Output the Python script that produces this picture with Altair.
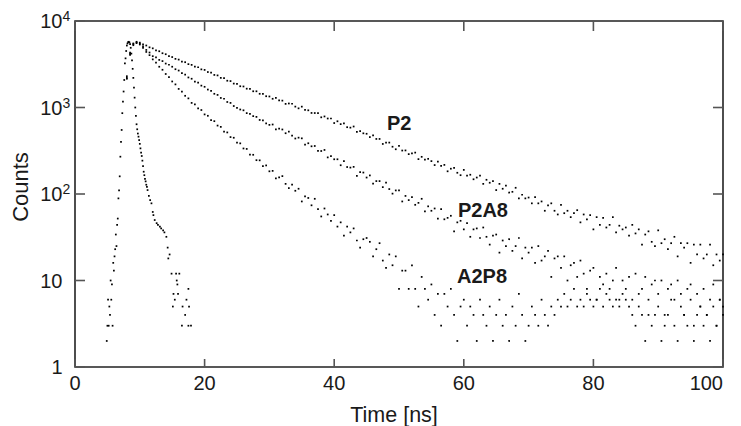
import altair as alt
import pandas as pd

# ---------------- data ----------------
# decay curves are sampled on a 0.5 ns channel grid starting at 8.0 ns
T_START = 8.0
T_STEP = 0.5

p2 = [
    2300, 4300, 5500, 5750,
    5620, 5360, 5210, 4960, 4830, 4580, 4470, 4240, 4130, 3920,
    3830, 3650, 3580, 3400, 3340, 3170, 3110, 2960, 2920, 2760,
    2720, 2570, 2530, 2380, 2350, 2200, 2180, 2040, 2020, 1890,
    1870, 1760, 1750, 1650, 1640, 1540, 1540, 1440, 1440, 1350,
    1341, 1261, 1289, 1208, 1201, 1101, 1113, 1105, 1024, 978,
    1023, 939, 928, 865, 863, 863, 770, 788, 746, 746,
    661, 693, 642, 654, 592, 585, 603, 524, 533, 503,
    497, 455, 477, 433, 433, 379, 392, 393, 352, 329,
    360, 318, 319, 289, 294, 301, 253, 269, 250, 255,
    240, 216, 237, 211, 217, 183, 196, 201, 176, 165,
    190, 163, 167, 148, 155, 163, 131, 146, 135, 141,
    111, 131, 115, 125, 104, 106, 118, 89, 98, 89,
    91, 78, 92, 78, 82, 64, 74, 78, 64, 58,
    75, 60, 64, 54, 60, 65, 47, 58, 51, 57,
    39, 54, 44, 53, 41, 44, 54, 36, 43, 39,
    41, 33, 44, 35, 39, 26, 34, 37, 28, 25,
    38, 27, 30, 23, 27, 32, 19, 27, 24, 27,
    16, 26, 20, 26, 18, 20, 26, 15, 20, 17,
    20,
]

p2a8 = [
    2200, 4200, 5400, 5650,
    5480, 5090, 4630, 4320, 3920, 3790, 3550, 3440, 3220, 3120,
    2960, 2770, 2675, 2490, 2400, 2225, 2150, 1995, 1935, 1790,
    1735, 1612, 1560, 1440, 1398, 1290, 1262, 1158, 1130, 1040,
    990, 948, 928, 861, 842, 795, 779, 718, 709, 655,
    630, 636, 559, 569, 557, 504, 526, 474, 438, 448,
    440, 372, 386, 356, 359, 315, 314, 323, 265, 274,
    252, 252, 215, 240, 205, 202, 206, 162, 179, 177,
    155, 164, 132, 141, 141, 120, 135, 114, 101, 110,
    110, 82, 95, 85, 92, 75, 79, 88, 63, 72,
    64, 68, 52, 67, 51, 53, 56, 37, 47, 49,
    39, 46, 32, 39, 40, 31, 41, 32, 26, 33,
    34, 21, 29, 25, 30, 22, 25, 31, 18, 24,
    21, 24, 16, 25, 17, 19, 22, 11, 18, 19,
    14, 19, 10, 15, 16, 11, 17, 12, 8, 13,
    14, 6, 11, 9, 12, 8, 10, 14, 6, 10,
    8, 11, 6, 12, 7, 8, 11, 4, 9, 10,
    7, 10, 4, 8, 9, 6, 10, 7, 4, 8,
    9, 3, 7, 5, 8, 4, 6, 9, 3, 6,
    5,
]

a2p8 = [
    2150, 4050, 5250, 5550,
    5350, 4880, 4390, 4030, 3600, 3310, 2960, 2730, 2440, 2250,
    2000, 1850, 1640, 1530, 1365, 1275, 1130, 1085, 975, 935,
    832, 802, 715, 695, 618, 597, 527, 515, 455, 447,
    392, 385, 336, 332, 285, 284, 246, 245, 210, 214,
    183, 185, 152, 156, 161, 131, 117, 128, 109, 115,
    82, 94, 90, 74, 88, 67, 55, 68, 58, 49,
    57, 42, 47, 33, 42, 36, 40, 29, 24, 30,
    31, 28, 19, 23, 27, 17, 14, 20, 15, 19,
    8, 13, 13, 8, 15, 8, 5, 11, 8, 6,
    9, 4, 7, 3, 7, 5, 8, 4, 2, 5,
    6, 3, 5, 4, 2, 6, 4, 3, 5, 2,
    4, 6, 3, 4, 2, 5, 3, 7, 4, 2,
    3, 5, 4, 3, 6, 4, 3, 5, 4, 6,
    5, 7, 5, 6, 8, 5, 6, 5, 7, 6,
    5, 6, 8, 5, 7, 6, 5, 6, 5, 7,
    6, 5, 4, 3, 5, 4, 2, 6, 3, 4,
    5, 2, 3, 4, 6, 3, 2, 5, 4, 3,
    6, 2, 4, 5, 3, 4, 2, 5, 3, 6,
    4,
]

# instrument response (narrow peak), non-zero channels only
irf_t = [4.9, 5.0, 5.1, 5.2, 5.3, 5.4, 5.5, 5.6, 5.7, 5.8, 5.9, 6.0, 6.1, 6.2,
         6.3, 6.4, 6.5, 6.6, 6.7, 6.8, 6.9, 7.0, 7.1, 7.2, 7.3, 7.4, 7.5, 7.6,
         7.7, 7.8, 7.9, 8.0, 8.1, 8.2, 8.3, 8.4, 8.5, 8.6, 8.7, 8.8, 8.9, 9.0,
         9.1, 9.2, 9.3, 9.4, 9.5, 9.6, 9.7, 9.8, 9.9, 10.0, 10.1, 10.2, 10.3,
         10.4, 10.5, 10.6, 10.7, 10.8, 10.9, 11.0, 11.1, 11.2, 11.4, 11.6, 11.8,
         12.0, 12.1, 12.3, 12.6, 12.8, 13.1, 13.3, 13.6, 13.8, 14.1, 14.3, 14.4,
         14.6, 14.9, 15.1, 15.2, 15.4, 15.6, 15.7, 15.8, 15.9, 16.1, 16.5, 16.6,
         17.0, 17.2, 17.5, 17.5, 17.6, 17.9]
irf_c = [2, 3, 6, 3, 5, 4, 10, 6, 9, 3, 16, 13, 19, 23,
         34, 25, 44, 52, 89, 110, 160, 270, 400, 550, 860, 1170, 1530, 2080,
         3240, 3700, 4500, 5200, 5500, 5700, 5750, 5650, 5400, 4900, 4200, 3500, 2800, 2200,
         1700, 1300, 1000, 800, 640, 560, 500, 460, 420, 380, 337, 300, 275,
         243, 210, 181, 165, 150, 140, 128, 121, 111, 95, 85, 78,
         62, 57, 50, 46, 44, 42, 40, 38, 36, 32, 24, 18,
         20, 12, 5, 7, 6, 12, 10, 9, 7, 12, 3, 5,
         4, 6, 8, 3, 5, 3]

label_text = ["P2", "P2A8", "A2P8"]
label_t = [48.15, 59.1, 58.95]
label_c = [550, 54, 9.4]

x_ticks = [0, 20, 40, 60, 80, 100]
x_tick_labels = ["0", "20", "40", "60", "80", "100"]
y_ticks = [1, 10, 100, 1000, 10000]
y_base = ["1", "10", "10", "10", "10"]
y_exp = ["", "", "2", "3", "4"]

# ---------------- chart ----------------
W, H = 648, 346
FONT = "Liberation Sans"
INK = "#1a1a1a"
TICK = "#555555"

rows = []
for name, vals in (("P2", p2), ("P2A8", p2a8), ("A2P8", a2p8)):
    for i, c in enumerate(vals):
        rows.append({"series": name, "t": T_START + i * T_STEP, "c": c})
for t, c in zip(irf_t, irf_c):
    rows.append({"series": "IRF", "t": t, "c": c})
df = pd.DataFrame(rows)

xs = alt.Scale(domain=[0, 100], nice=False, zero=False)
ys = alt.Scale(type="log", domain=[1, 10000], nice=False)


def X(field):
    return alt.X(field, scale=xs, axis=None)


def Y(field):
    return alt.Y(field, scale=ys, axis=None)


dots = alt.Chart(df).mark_square(size=3, color="#000000", opacity=1).encode(
    x=X("t:Q"), y=Y("c:Q")
)

lab_df = pd.DataFrame({"text": label_text, "t": label_t, "c": label_c})
labels = alt.Chart(lab_df).mark_text(
    align="left", baseline="alphabetic", font=FONT, fontSize=20,
    fontWeight="bold", color=INK
).encode(x=X("t:Q"), y=Y("c:Q"), text="text:N")

xt_df = pd.DataFrame({"v": x_ticks, "lab": x_tick_labels})
xt_bottom = alt.Chart(xt_df).mark_rule(color=TICK, strokeWidth=1.6).encode(
    x=X("v:Q"), y=alt.value(H), y2=alt.value(H - 8)
)
xt_top = alt.Chart(xt_df).mark_rule(color=TICK, strokeWidth=1.6).encode(
    x=X("v:Q"), y=alt.value(0), y2=alt.value(10)
)
xt_lab = alt.Chart(xt_df).transform_filter("datum.v < 100").mark_text(
    align="center", baseline="alphabetic", font=FONT, fontSize=20, color=INK
).encode(x=X("v:Q"), y=alt.value(H + 23), text="lab:N")
# the last label would run past the page edge; keep it just inside
xt_lab_last = alt.Chart(xt_df).transform_filter("datum.v >= 100").mark_text(
    align="right", baseline="alphabetic", font=FONT, fontSize=20, color=INK
).encode(x=X("v:Q"), y=alt.value(H + 23), text="lab:N")

yt_df = pd.DataFrame({"v": y_ticks, "base": y_base, "exp": y_exp})
yt_left = alt.Chart(yt_df).mark_rule(color=TICK, strokeWidth=1.6).encode(
    y=Y("v:Q"), x=alt.value(0), x2=alt.value(10)
)
yt_right = alt.Chart(yt_df).mark_rule(color=TICK, strokeWidth=1.6).encode(
    y=Y("v:Q"), x=alt.value(W - 10), x2=alt.value(W)
)
yt_base = alt.Chart(yt_df).mark_text(
    align="right", baseline="alphabetic", dy=7, font=FONT, fontSize=20, color=INK
).encode(y=Y("v:Q"), x=alt.value(-12.5), text="base:N")
yt_exp = alt.Chart(yt_df).mark_text(
    align="left", baseline="alphabetic", dy=0, font=FONT, fontSize=14, color=INK
).encode(y=Y("v:Q"), x=alt.value(-12.5), text="exp:N")

one = pd.DataFrame({"k": [0]})
x_title = alt.Chart(one).mark_text(
    text="Time [ns]", align="center", baseline="alphabetic", font=FONT,
    fontSize=21.5, color=INK
).encode(x=alt.value(319), y=alt.value(H + 55))
y_title = alt.Chart(one).mark_text(
    text="Counts", align="center", baseline="middle", angle=270, font=FONT,
    fontSize=22, color=INK
).encode(x=alt.value(-54), y=alt.value(166))

chart = alt.layer(
    dots, labels, xt_bottom, xt_top, xt_lab, xt_lab_last, yt_left, yt_right,
    yt_base, yt_exp, x_title, y_title
).properties(
    width=W, height=H,
    padding={"left": 67, "top": 13, "right": 10, "bottom": 62},
    autosize=alt.AutoSizeParams(type="none"),
).configure_view(
    stroke="#222222", strokeWidth=1.6
)

chart.save("out.html", embed_options={"renderer": "svg", "actions": False})
